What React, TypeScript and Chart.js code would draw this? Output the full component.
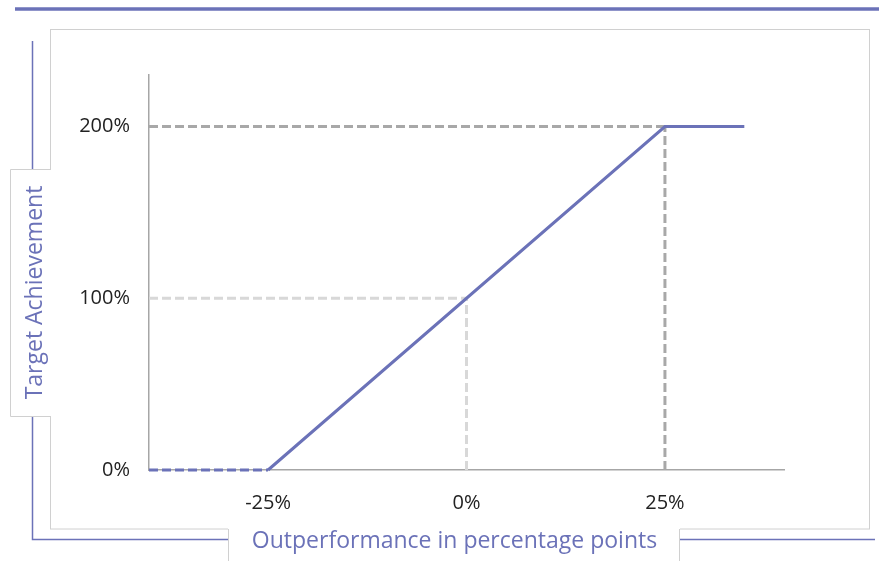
import React, { useEffect, useRef } from "react";
import { Chart, registerables } from "chart.js";

Chart.register(...registerables);

// Data
const outperformance = [-40, -25, 25, 35];
const targetAchievement = [0, 0, 200, 200];

const ref200X = [-40, 25];
const ref200Y = [200, 200];
const ref25X = [25, 25];
const ref25Y = [0, 200];
const ref100X = [-40, 0];
const ref100Y = [100, 100];
const ref0X = [0, 0];
const ref0Y = [0, 100];

const xTicks = [-25, 0, 25];
const yTicks = [0, 100, 200];

const xTitle = "Outperformance in percentage points";
const yTitle = "Target Achievement";

const PURPLE = "#6b72b8";
const DARK_GRAY = "#a8a8a8";
const LIGHT_GRAY = "#d8d8d8";

const toPts = (xs: number[], ys: number[]) => xs.map((x, i) => ({ x, y: ys[i] }));

const decorPlugin = {
  id: "decor",
  beforeDraw(chart: any) {
    const ctx = chart.ctx;
    ctx.save();
    // top purple rule
    ctx.strokeStyle = PURPLE;
    ctx.lineWidth = 3.5;
    ctx.beginPath();
    ctx.moveTo(15, 9);
    ctx.lineTo(879, 9);
    ctx.stroke();
    // left/bottom purple bracket
    ctx.lineWidth = 1.5;
    ctx.beginPath();
    ctx.moveTo(32.5, 41);
    ctx.lineTo(32.5, 539.5);
    ctx.lineTo(875, 539.5);
    ctx.stroke();
    // gray frame
    ctx.strokeStyle = "#d0d0d0";
    ctx.lineWidth = 1;
    ctx.strokeRect(50.5, 29.5, 819, 499.5);
    // y title box
    ctx.fillStyle = "#ffffff";
    ctx.fillRect(10, 169, 41.5, 248);
    ctx.beginPath();
    ctx.moveTo(51, 169.5);
    ctx.lineTo(10.5, 169.5);
    ctx.lineTo(10.5, 416.5);
    ctx.lineTo(51, 416.5);
    ctx.stroke();
    // x title box
    ctx.fillRect(228, 524, 452, 40);
    ctx.beginPath();
    ctx.moveTo(228.5, 529);
    ctx.lineTo(228.5, 561);
    ctx.moveTo(679.5, 529);
    ctx.lineTo(679.5, 561);
    ctx.stroke();
    // titles
    ctx.fillStyle = PURPLE;
    ctx.font = '23px "Open Sans"';
    ctx.textAlign = "center";
    ctx.textBaseline = "middle";
    ctx.fillText(xTitle, 454.5, 541);
    ctx.translate(35, 292.5);
    ctx.rotate(-Math.PI / 2);
    ctx.fillText(yTitle, 0, 0);
    ctx.restore();
  },
};

export default function App() {
  const ref = useRef<HTMLCanvasElement | null>(null);
  useEffect(() => {
    if (!ref.current) return;
    Chart.defaults.font.family = '"Open Sans", sans-serif';
    const dashed = [9, 4];
    const chart = new Chart(ref.current, {
      type: "line",
      data: {
        datasets: [
          {
            data: toPts(outperformance, targetAchievement),
            borderColor: PURPLE,
            borderWidth: 3,
            pointRadius: 0,
            clip: false,
            segment: {
              borderDash: (c: any) => (c.p0DataIndex === 0 ? dashed : undefined),
            },
          } as any,
          { data: toPts(ref200X, ref200Y), borderColor: DARK_GRAY, borderWidth: 3, borderDash: dashed, pointRadius: 0, clip: false },
          { data: toPts(ref25X, ref25Y), borderColor: DARK_GRAY, borderWidth: 3, borderDash: dashed, pointRadius: 0, clip: false },
          { data: toPts(ref100X, ref100Y), borderColor: LIGHT_GRAY, borderWidth: 3, borderDash: dashed, pointRadius: 0, clip: false },
          { data: toPts(ref0X, ref0Y), borderColor: LIGHT_GRAY, borderWidth: 3, borderDash: dashed, pointRadius: 0, clip: false },
        ],
      },
      options: {
        responsive: false,
        animation: false,
        events: [],
        layout: { padding: { left: 0, top: 75, right: 95, bottom: 0 } },
        plugins: { legend: { display: false }, tooltip: { enabled: false }, title: { display: false } },
        scales: {
          x: {
            type: "linear",
            min: -40,
            max: 40,
            grid: { display: false, drawTicks: false },
            border: { display: true, color: "#a6a6a6", width: 1.5 },
            afterBuildTicks: (s: any) => {
              s.ticks = xTicks.map((v) => ({ value: v }));
            },
            afterFit: (s: any) => {
              s.height = 91;
            },
            ticks: {
              padding: 21,
              color: "#222222",
              font: { size: 20 },
              maxRotation: 0,
              callback: (v: any) => `${v}%`,
            },
          },
          y: {
            type: "linear",
            min: 0,
            max: 230,
            grid: { display: false, drawTicks: false },
            border: { display: true, color: "#a6a6a6", width: 1.5 },
            afterBuildTicks: (s: any) => {
              s.ticks = yTicks.map((v) => ({ value: v }));
            },
            afterFit: (s: any) => {
              s.width = 149;
            },
            ticks: {
              padding: 19,
              color: "#222222",
              font: { size: 20 },
              callback: (v: any) => `${v}%`,
            },
          },
        },
      },
      plugins: [decorPlugin],
    } as any);
    return () => chart.destroy();
  }, []);
  return (
    <div style={{ position: "absolute", left: 0, top: 0, width: 879, height: 561 }}>
      <canvas ref={ref} width={879} height={561} style={{ display: "block", width: 879, height: 561 }} />
    </div>
  );
}
